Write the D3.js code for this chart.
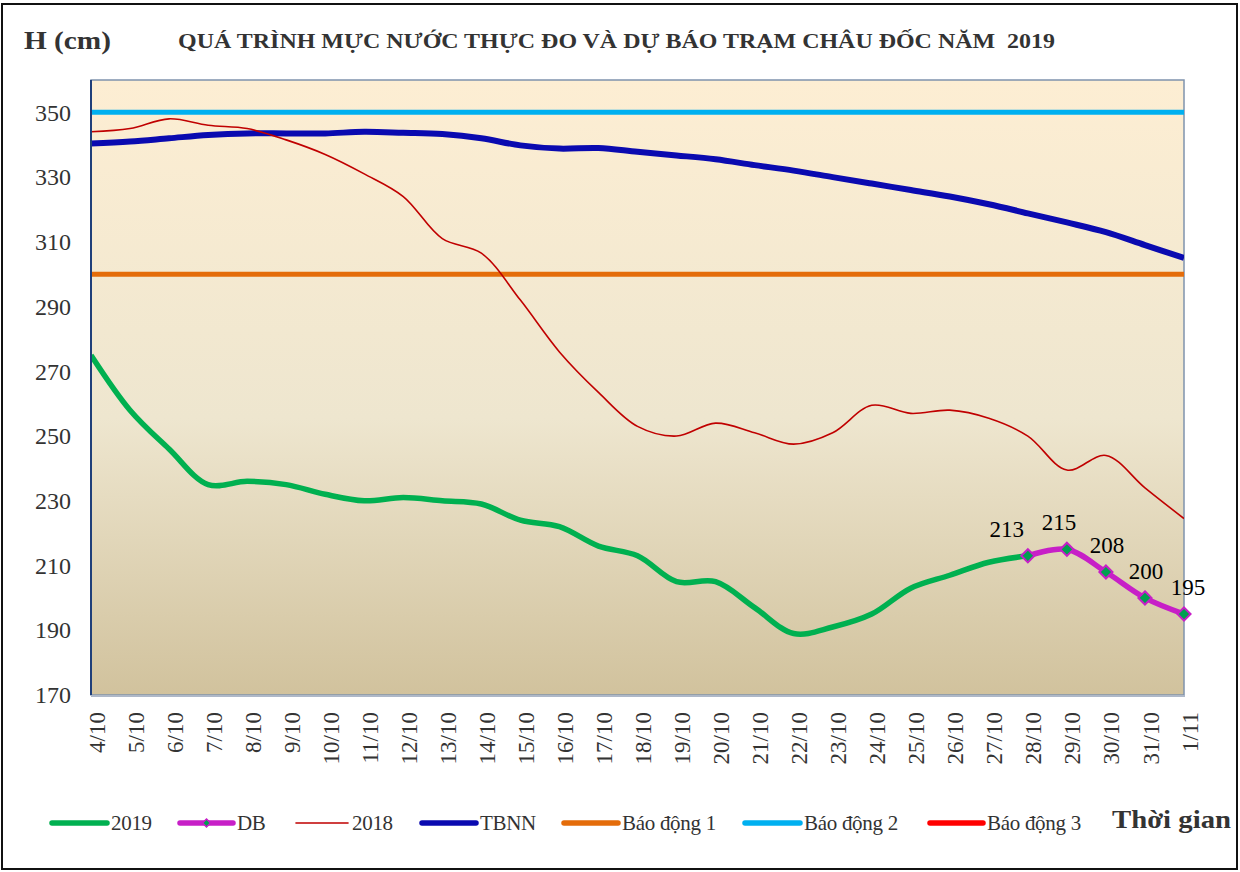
<!DOCTYPE html>
<html>
<head>
<meta charset="utf-8">
<script src="https://cdn.jsdelivr.net/npm/d3@7"></script>
<style>
  body { margin: 0; background: #fff; }
  svg { display: block; }
  text { font-family: "Liberation Serif", "Times New Roman", serif; }
</style>
</head>
<body>
<script>
// data
var dates = ["4/10","5/10","6/10","7/10","8/10","9/10","10/10","11/10","12/10","13/10",
  "14/10","15/10","16/10","17/10","18/10","19/10","20/10","21/10","22/10","23/10",
  "24/10","25/10","26/10","27/10","28/10","29/10","30/10","31/10","1/11"];
var h2019 = [275,258,246,235,236,235,232,230,231,230,229,224,222,216,213,205,205,197,189,191,195,203,207,211,213];
var hDB = [213,215,208,200,195];           // forecast, starts on 28/10
var dbStart = 24;
var h2018 = [344,345,348,346,345,341.5,337,331,324,311,306.5,292,276,263.5,253,250,254,251,247.5,251,259.5,257,258,255.5,250,239.5,244,234,224.5];
var tbnn = [340.4,341,342,343,343.5,343.5,343.5,344,343.7,343.3,342,339.8,338.8,339,337.8,336.7,335.5,333.7,332,330,328,326,324,321.6,318.8,316,313,309,305];
var alarms = [300, 350, 400];
var yTicks = [170,190,210,230,250,270,290,310,330,350];

var W = 1240, H = 872;
var pL = 91, pR = 1184, pT = 80, pB = 695;

var svg = d3.select("body").append("svg").attr("width", W).attr("height", H);

var defs = svg.append("defs");
var grad = defs.append("linearGradient").attr("id", "bg")
  .attr("x1", 0).attr("y1", 0).attr("x2", 0).attr("y2", 1);
grad.append("stop").attr("offset", "0%").attr("stop-color", "#fdeed3");
grad.append("stop").attr("offset", "55%").attr("stop-color", "#eee6cf");
grad.append("stop").attr("offset", "100%").attr("stop-color", "#d1c29d");
defs.append("clipPath").attr("id", "clip").append("rect")
  .attr("x", pL).attr("y", pT).attr("width", pR - pL).attr("height", pB - pT);

// outer frame
svg.append("rect").attr("x", 2).attr("y", 4).attr("width", 1235).attr("height", 865)
  .attr("fill", "none").attr("stroke", "#111").attr("stroke-width", 2);

var x = d3.scalePoint().domain(dates).range([pL, pR]);
var y = d3.scaleLinear().domain([170, 360]).range([pB, pT]);

svg.append("rect").attr("x", pL).attr("y", pT)
  .attr("width", pR - pL).attr("height", pB - pT)
  .attr("fill", "url(#bg)").attr("stroke", "#7f93ad").attr("stroke-width", 1.5);

var plot = svg.append("g").attr("clip-path", "url(#clip)");

var line = d3.line()
  .x(function(d) { return x(d.k); })
  .y(function(d) { return y(d.v); })
  .curve(d3.curveCatmullRom);

function pts(arr, start) {
  return arr.map(function(v, i) { return { k: dates[start + i], v: v }; });
}

// alarm levels
var alarmColors = ["#e46c0a", "#00b0f0", "#ff0000"];
alarms.forEach(function(a, i) {
  plot.append("line")
    .attr("x1", pL).attr("x2", pR).attr("y1", y(a)).attr("y2", y(a))
    .attr("stroke", alarmColors[i]).attr("stroke-width", 5);
});

plot.append("path").datum(pts(tbnn, 0)).attr("d", line)
  .attr("fill", "none").attr("stroke", "#0a0ab0").attr("stroke-width", 6);
plot.append("path").datum(pts(h2018, 0)).attr("d", line)
  .attr("fill", "none").attr("stroke", "#c00000").attr("stroke-width", 1.6);
plot.append("path").datum(pts(h2019, 0)).attr("d", line)
  .attr("fill", "none").attr("stroke", "#00b050").attr("stroke-width", 5.5);

var db = pts(hDB, dbStart);
svg.append("path").datum(db).attr("d", line)
  .attr("fill", "none").attr("stroke", "#c71fc7").attr("stroke-width", 5.5);

var diamond = d3.symbol().type(d3.symbolDiamond2).size(110);
svg.selectAll(".mk").data(db).enter().append("path")
  .attr("transform", function(d) { return "translate(" + x(d.k) + "," + y(d.v) + ")"; })
  .attr("d", diamond).attr("fill", "#00a050").attr("stroke", "#c71fc7").attr("stroke-width", 2);

var labelShift = [-21, -8, 1, 1, 4];
svg.selectAll(".lb").data(db).enter().append("text")
  .attr("x", function(d, i) { return x(d.k) + labelShift[i]; })
  .attr("y", function(d) { return y(d.v) - 19; })
  .attr("text-anchor", "middle").attr("font-size", 23).attr("fill", "#000")
  .text(function(d) { return d.v; });

// axes
svg.append("line").attr("x1", pL).attr("x2", pL).attr("y1", pT).attr("y2", pB)
  .attr("stroke", "#1f3f7a").attr("stroke-width", 2);
svg.append("line").attr("x1", pL).attr("x2", pR + 1).attr("y1", pB + 1).attr("y2", pB + 1)
  .attr("stroke", "#aeb8c8").attr("stroke-width", 2);

var yAxis = svg.append("g").attr("transform", "translate(" + pL + ",0)")
  .call(d3.axisLeft(y).tickValues(yTicks).tickSize(0).tickPadding(20));
yAxis.select(".domain").remove();
yAxis.selectAll("text").attr("font-size", 24).attr("fill", "#333");

var xAxis = svg.append("g").attr("transform", "translate(0," + pB + ")")
  .call(d3.axisBottom(x).tickSize(0));
xAxis.select(".domain").remove();
xAxis.selectAll("text")
  .attr("font-size", 23).attr("fill", "#333")
  .attr("text-anchor", "end")
  .attr("transform", "rotate(-90)")
  .attr("x", -17).attr("y", 5).attr("dy", "0.35em");

// titles
svg.append("text").attr("x", 24).attr("y", 49)
  .attr("font-size", 25).attr("font-weight", "bold").attr("fill", "#333")
  .attr("textLength", 87).attr("lengthAdjust", "spacingAndGlyphs")
  .text("H (cm)");
svg.append("text").attr("x", 178).attr("y", 48)
  .attr("font-size", 20).attr("font-weight", "bold").attr("fill", "#333")
  .attr("textLength", 877).attr("lengthAdjust", "spacingAndGlyphs")
  .text("QUÁ TRÌNH MỰC NƯỚC THỰC ĐO VÀ DỰ BÁO TRẠM CHÂU ĐỐC NĂM\u00a0 2019");
svg.append("text").attr("x", 1112).attr("y", 828)
  .attr("font-size", 26).attr("font-weight", "bold").attr("fill", "#333")
  .attr("textLength", 119).attr("lengthAdjust", "spacingAndGlyphs")
  .text("Thời gian");

// legend
var legend = [
  { name: "2019", color: "#00b050", w: 5.5, x0: 52, x1: 107 },
  { name: "DB", color: "#c71fc7", w: 5.5, x0: 180, x1: 233, marker: true },
  { name: "2018", color: "#c00000", w: 1.6, x0: 296, x1: 348 },
  { name: "TBNN", color: "#0a0ab0", w: 5.5, x0: 422, x1: 476 },
  { name: "Báo động 1", color: "#e46c0a", w: 5.5, x0: 564, x1: 618 },
  { name: "Báo động 2", color: "#00b0f0", w: 5.5, x0: 745, x1: 800 },
  { name: "Báo động 3", color: "#ff0000", w: 5.5, x0: 930, x1: 983 }
];
var ly = 823;
var lg = svg.append("g");
legend.forEach(function(l) {
  lg.append("line").attr("x1", l.x0).attr("x2", l.x1).attr("y1", ly).attr("y2", ly)
    .attr("stroke", l.color).attr("stroke-width", l.w).attr("stroke-linecap", "round");
  if (l.marker) {
    lg.append("path").attr("transform", "translate(" + (l.x0 + l.x1) / 2 + "," + ly + ")")
      .attr("d", d3.symbol().type(d3.symbolDiamond2).size(40))
      .attr("fill", "#00a050").attr("stroke", "#c71fc7").attr("stroke-width", 1.5);
  }
  lg.append("text").attr("x", l.x1 + 4).attr("y", ly + 7)
    .attr("font-size", 21).attr("fill", "#333").attr("letter-spacing", -0.3)
    .text(l.name);
});
</script>
</body>
</html>
